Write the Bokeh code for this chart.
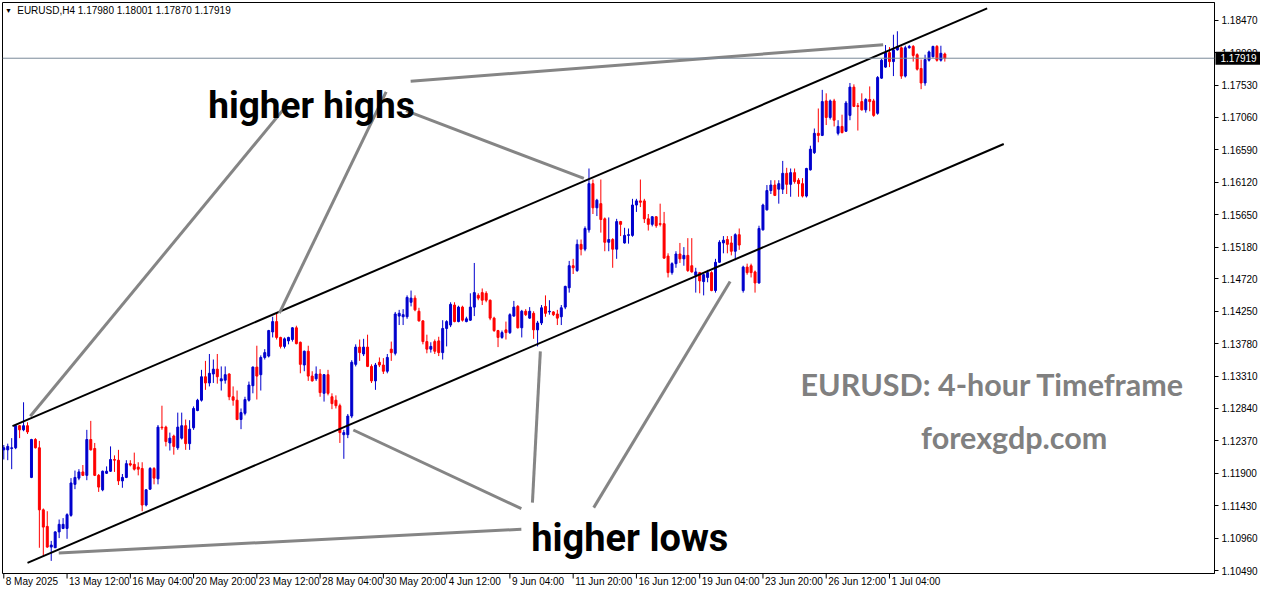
from bokeh.plotting import figure
from bokeh.models import (Range1d, FixedTicker, LinearAxis, Label, Span,
                          PrintfTickFormatter, ColumnDataSource)
from bokeh.core.properties import value
from bokeh.embed import file_html
from bokeh.resources import INLINE

# ---------------- data (EURUSD H4) ----------------
open_ = [1.1224,1.1224,1.1226,1.1227,1.1259,1.1253,1.1259,1.1184,1.1239,1.1227,
 1.1137,1.1113,1.1083,1.1082,1.1105,1.1110,1.1110,1.1129,1.1174,1.1183,
 1.1192,1.1187,1.1239,1.1226,1.1187,1.1166,1.1190,1.1193,1.1210,1.1209,
 1.1179,1.1184,1.1204,1.1203,1.1199,1.1197,1.1144,1.1167,1.1197,1.1182,
 1.1257,1.1257,1.1234,1.1244,1.1227,1.1241,1.1259,1.1233,1.1256,1.1281,
 1.1296,1.1330,1.1321,1.1334,1.1341,1.1324,1.1325,1.1334,1.1301,1.1296,
 1.1268,1.1277,1.1296,1.1317,1.1344,1.1333,1.1358,1.1360,1.1395,1.1410,
 1.1387,1.1374,1.1382,1.1384,1.1401,1.1380,1.1347,1.1367,1.1331,1.1327,
 1.1334,1.1306,1.1333,1.1301,1.1296,1.1288,1.1246,1.1246,1.1273,1.1348,
 1.1373,1.1363,1.1373,1.1345,1.1324,1.1351,1.1347,1.1338,1.1370,1.1364,
 1.1418,1.1417,1.1417,1.1438,1.1444,1.1425,1.1411,1.1381,1.1370,1.1381,
 1.1382,1.1365,1.1400,1.1405,1.1434,1.1410,1.1431,1.1410,1.1412,1.1431,
 1.1448,1.1452,1.1451,1.1441,1.1415,1.1397,1.1387,1.1398,1.1394,1.1418,
 1.1432,1.1401,1.1425,1.1415,1.1422,1.1398,1.1408,1.1432,1.1424,1.1424,
 1.1421,1.1417,1.1431,1.1459,1.1491,1.1484,1.1522,1.1515,1.1543,1.1610,
 1.1575,1.1581,1.1559,1.1525,1.1529,1.1515,1.1555,1.1524,1.1535,1.1535,
 1.1579,1.1585,1.1585,1.1559,1.1551,1.1562,1.1552,1.1552,1.1505,1.1481,
 1.1494,1.1508,1.1501,1.1506,1.1491,1.1477,1.1481,1.1468,1.1474,1.1481,
 1.1455,1.1496,1.1524,1.1529,1.1524,1.1512,1.1536,1.1455,1.1489,1.1491,
 1.1482,1.1466,1.1543,1.1572,1.1600,1.1608,1.1602,1.1602,1.1625,1.1609,
 1.1626,1.1615,1.1610,1.1592,1.1630,1.1655,1.1683,1.1680,1.1730,1.1706,
 1.1730,1.1683,1.1693,1.1686,1.1709,1.1750,1.1723,1.1729,1.1717,1.1732,
 1.1730,1.1712,1.1763,1.1779,1.1800,1.1787,1.1804,1.1807,1.1766,1.1807,
 1.1809,1.1797,1.1777,1.1756,1.1789,1.1794,1.1809,1.1789,1.17980]

high = [1.1231,1.1233,1.1241,1.1260,1.1260,1.1293,1.1264,1.1240,1.1241,1.1237,
 1.1139,1.1135,1.1092,1.1106,1.1123,1.1125,1.1132,1.1183,1.1194,1.1196,
 1.1202,1.1253,1.1266,1.1234,1.1189,1.1194,1.1200,1.1229,1.1216,1.1224,
 1.1189,1.1209,1.1209,1.1220,1.1206,1.1206,1.1167,1.1199,1.1199,1.1260,
 1.1288,1.1259,1.1249,1.1246,1.1278,1.1278,1.1268,1.1267,1.1287,1.1298,
 1.1340,1.1353,1.1363,1.1355,1.1363,1.1345,1.1345,1.1335,1.1316,1.1310,
 1.1284,1.1301,1.1323,1.1345,1.1375,1.1361,1.1370,1.1398,1.1417,1.1422,
 1.1388,1.1387,1.1388,1.1402,1.1404,1.1381,1.1368,1.1375,1.1338,1.1345,
 1.1341,1.1334,1.1340,1.1306,1.1303,1.1291,1.1253,1.1276,1.1354,1.1377,
 1.1384,1.1385,1.1391,1.1348,1.1350,1.1358,1.1357,1.1363,1.1381,1.1424,
 1.1427,1.1428,1.1448,1.1455,1.1448,1.1430,1.1412,1.1391,1.1380,1.1384,
 1.1388,1.1412,1.1412,1.1438,1.1438,1.1433,1.1433,1.1417,1.1451,1.1495,
 1.1451,1.1458,1.1454,1.1442,1.1417,1.1398,1.1397,1.1410,1.1422,1.1440,
 1.1434,1.1427,1.1428,1.1431,1.1425,1.1411,1.1434,1.1448,1.1441,1.1425,
 1.1427,1.1434,1.1462,1.1498,1.1501,1.1529,1.1529,1.1548,1.1632,1.1616,
 1.1588,1.1616,1.1561,1.1561,1.1531,1.1559,1.1556,1.1546,1.1545,1.1588,
 1.1588,1.1616,1.1588,1.1566,1.1563,1.1563,1.1581,1.1569,1.1509,1.1496,
 1.1512,1.1524,1.1518,1.1531,1.1531,1.1488,1.1482,1.1479,1.1485,1.1483,
 1.1501,1.1528,1.1534,1.1534,1.1534,1.1538,1.1545,1.1491,1.1494,1.1494,
 1.1484,1.1549,1.1581,1.1608,1.1615,1.1615,1.1615,1.1643,1.1633,1.1632,
 1.1632,1.1618,1.1618,1.1633,1.1665,1.1690,1.1719,1.1746,1.1741,1.1732,
 1.1733,1.1702,1.1710,1.1730,1.1756,1.1754,1.1727,1.1741,1.1734,1.1751,
 1.1733,1.1766,1.1791,1.1811,1.1808,1.1826,1.1831,1.1809,1.1810,1.1811,
 1.1811,1.1799,1.1790,1.1797,1.1803,1.1810,1.1811,1.1810,1.18001]

low = [1.1210,1.1209,1.1196,1.1225,1.1241,1.1251,1.1247,1.1183,1.1226,1.1082,
 1.1070,1.1082,1.1063,1.1082,1.1096,1.1109,1.1095,1.1127,1.1167,1.1180,
 1.1186,1.1180,1.1223,1.1186,1.1163,1.1164,1.1189,1.1192,1.1192,1.1173,
 1.1169,1.1183,1.1200,1.1194,1.1187,1.1135,1.1142,1.1166,1.1174,1.1174,
 1.1253,1.1229,1.1223,1.1217,1.1224,1.1239,1.1224,1.1224,1.1253,1.1280,
 1.1294,1.1311,1.1316,1.1321,1.1320,1.1310,1.1320,1.1296,1.1288,1.1267,
 1.1254,1.1274,1.1294,1.1306,1.1297,1.1310,1.1355,1.1358,1.1387,1.1384,
 1.1371,1.1371,1.1377,1.1381,1.1377,1.1335,1.1338,1.1324,1.1323,1.1324,
 1.1301,1.1294,1.1303,1.1283,1.1284,1.1234,1.1211,1.1241,1.1270,1.1345,
 1.1353,1.1360,1.1344,1.1321,1.1311,1.1344,1.1334,1.1335,1.1353,1.1361,
 1.1405,1.1405,1.1414,1.1432,1.1425,1.1410,1.1377,1.1364,1.1365,1.1363,
 1.1360,1.1355,1.1374,1.1402,1.1409,1.1409,1.1410,1.1409,1.1411,1.1418,
 1.1441,1.1434,1.1438,1.1412,1.1395,1.1373,1.1385,1.1384,1.1392,1.1417,
 1.1400,1.1387,1.1418,1.1414,1.1385,1.1374,1.1405,1.1417,1.1420,1.1418,
 1.1405,1.1405,1.1428,1.1452,1.1479,1.1482,1.1506,1.1512,1.1539,1.1566,
 1.1563,1.1539,1.1512,1.1512,1.1488,1.1501,1.1534,1.1523,1.1523,1.1533,
 1.1569,1.1576,1.1553,1.1542,1.1548,1.1546,1.1548,1.1501,1.1474,1.1478,
 1.1488,1.1495,1.1491,1.1482,1.1481,1.1452,1.1451,1.1448,1.1467,1.1454,
 1.1452,1.1495,1.1509,1.1509,1.1506,1.1499,1.1514,1.1452,1.1478,1.1474,
 1.1452,1.1465,1.1542,1.1571,1.1595,1.1592,1.1581,1.1595,1.1595,1.1591,
 1.1610,1.1591,1.1590,1.1590,1.1629,1.1653,1.1670,1.1679,1.1695,1.1703,
 1.1693,1.1680,1.1683,1.1685,1.1702,1.1721,1.1687,1.1716,1.1713,1.1715,
 1.1707,1.1710,1.1762,1.1778,1.1779,1.1766,1.1803,1.1762,1.1764,1.1806,
 1.1787,1.1774,1.1747,1.1752,1.1787,1.1793,1.1787,1.1787,1.17870]

close = [1.1227,1.1229,1.1227,1.1259,1.1253,1.1259,1.1250,1.1239,1.1227,1.1137,
 1.1112,1.1083,1.1086,1.1105,1.1116,1.1116,1.1130,1.1176,1.1184,1.1192,
 1.1187,1.1239,1.1224,1.1187,1.1170,1.1193,1.1193,1.1210,1.1209,1.1179,
 1.1184,1.1204,1.1202,1.1196,1.1196,1.1144,1.1166,1.1197,1.1183,1.1257,
 1.1256,1.1236,1.1241,1.1229,1.1257,1.1259,1.1233,1.1254,1.1284,1.1296,
 1.1330,1.1321,1.1335,1.1341,1.1330,1.1327,1.1333,1.1301,1.1296,1.1268,
 1.1278,1.1297,1.1318,1.1344,1.1331,1.1358,1.1365,1.1397,1.1410,1.1387,
 1.1374,1.1385,1.1387,1.1401,1.1378,1.1348,1.1367,1.1331,1.1324,1.1334,
 1.1307,1.1333,1.1306,1.1291,1.1288,1.1249,1.1249,1.1273,1.1351,1.1373,
 1.1365,1.1373,1.1345,1.1324,1.1347,1.1347,1.1338,1.1358,1.1365,1.1421,
 1.1422,1.1420,1.1445,1.1444,1.1427,1.1411,1.1381,1.1370,1.1374,1.1367,
 1.1365,1.1400,1.1410,1.1435,1.1410,1.1431,1.1412,1.1414,1.1431,1.1452,
 1.1444,1.1441,1.1441,1.1415,1.1397,1.1387,1.1394,1.1394,1.1420,1.1431,
 1.1401,1.1425,1.1420,1.1425,1.1398,1.1408,1.1430,1.1422,1.1425,1.1420,
 1.1415,1.1430,1.1461,1.1491,1.1488,1.1522,1.1515,1.1545,1.1610,1.1575,
 1.1586,1.1558,1.1525,1.1529,1.1515,1.1555,1.1551,1.1535,1.1536,1.1579,
 1.1585,1.1583,1.1559,1.1551,1.1562,1.1549,1.1551,1.1502,1.1481,1.1494,
 1.1508,1.1501,1.1506,1.1484,1.1482,1.1482,1.1469,1.1478,1.1481,1.1455,
 1.1496,1.1525,1.1528,1.1522,1.1512,1.1536,1.1521,1.1489,1.1481,1.1481,
 1.1466,1.1545,1.1579,1.1600,1.1608,1.1593,1.1610,1.1625,1.1609,1.1626,
 1.1613,1.1610,1.1592,1.1632,1.1660,1.1683,1.1680,1.1729,1.1706,1.1730,
 1.1702,1.1693,1.1684,1.1727,1.1750,1.1722,1.1722,1.1717,1.1732,1.1729,
 1.1709,1.1764,1.1789,1.1800,1.1787,1.1804,1.1809,1.1766,1.1807,1.1809,
 1.1796,1.1776,1.1756,1.1790,1.1801,1.1809,1.1789,1.1799,1.17919]

date_labels = ["8 May 2025", "13 May 12:00", "16 May 04:00", "20 May 20:00",
               "23 May 12:00", "28 May 04:00", "30 May 20:00", "4 Jun 12:00",
               "9 Jun 04:00", "11 Jun 20:00", "16 Jun 12:00", "19 Jun 04:00",
               "23 Jun 20:00", "26 Jun 12:00", "1 Jul 04:00"]
date_label_bars = [0, 16, 32, 48, 64, 80, 96, 112, 128, 144, 160, 176, 192, 208, 224]

price_ticks = [1.18470, 1.18000, 1.17530, 1.17060, 1.16590, 1.16120, 1.15650,
               1.15180, 1.14720, 1.14250, 1.13780, 1.13310, 1.12840, 1.12370,
               1.11900, 1.11430, 1.10960, 1.10490]

last_price = 1.17919

# channel lines and annotation pointers (bar index, price)
channel_x0 = [2.2, 6.0]
channel_y0 = [1.12585, 1.10600]
channel_x1 = [248.7, 252.9]
channel_y1 = [1.18641, 1.16675]

ptr_x0 = [102.9, 70.9, 96.7, 101.7, 130.9, 133.7, 149.2, 130.9]
ptr_y0 = [1.17586, 1.17188, 1.17430, 1.17159, 1.11388, 1.11474, 1.11402, 1.11089]
ptr_x1 = [222.4, 6.7, 69.7, 146.7, 88.4, 135.7, 183.7, 13.9]
ptr_y1 = [1.18114, 1.12727, 1.14224, 1.16176, 1.12528, 1.13668, 1.14680, 1.10746]

# ---------------- build ----------------
n = len(close)
xs = list(range(n))
BLUE, RED = "#0000CD", "#FF0000"
colors = [BLUE if c >= o else RED for o, c in zip(open_, close)]
src = ColumnDataSource(dict(
    x=xs, open=open_, close=close,
    high=[max(h, o, c) for h, o, c in zip(high, open_, close)],
    low=[min(l, o, c) for l, o, c in zip(low, open_, close)],
    top=[max(o, c) for o, c in zip(open_, close)],
    bottom=[min(o, c) for o, c in zip(open_, close)],
    color=colors))

W, H = 1260, 588
BOTTOM = 15
X0, X1 = -0.325, 306.2
Y0, Y1 = 1.10447, 1.18727
p = figure(width=W, height=H, output_backend="svg", toolbar_location=None,
           x_range=Range1d(X0, X1), y_range=Range1d(Y0, Y1),
           x_axis_location=None, y_axis_location=None,
           min_border_left=2, min_border_top=2, min_border_right=0,
           min_border_bottom=BOTTOM)
p.xgrid.visible = False
p.ygrid.visible = False
p.outline_line_color = "black"
p.outline_line_width = 1
p.background_fill_color = "white"
p.border_fill_color = "white"

p.segment(x0="x", y0="low", x1="x", y1="high", color="color", line_width=1, source=src)
p.vbar(x="x", top="top", bottom="bottom", width=0.5, fill_color="color",
       line_color="color", line_width=1, source=src)

p.add_layout(Span(location=last_price, dimension="width", line_color="#7a8a99", line_width=1))

p.segment(x0=channel_x0, y0=channel_y0, x1=channel_x1, y1=channel_y1,
          line_color="black", line_width=2)
p.segment(x0=ptr_x0, y0=ptr_y0, x1=ptr_x1, y1=ptr_y1,
          line_color="#858585", line_width=3)

AXFONT = "Liberation Sans"
yaxis = LinearAxis(ticker=FixedTicker(ticks=price_ticks),
                   formatter=PrintfTickFormatter(format="%.5f"),
                   major_tick_out=4, major_tick_in=0, minor_tick_line_color=None,
                   major_label_text_font=AXFONT, major_label_text_font_size="10px",
                   major_label_text_color="black", major_label_standoff=3,
                   axis_line_color="black")
p.add_layout(yaxis, "right")

# approximate pixel sizes of one data unit (frame is about 1212 x 571 px)
ppx_x = (X1 - X0) / (W - 2 - 46)
ppx_y = (Y1 - Y0) / (H - 2 - BOTTOM)

# time scale: tick marks + left-aligned date labels below the frame
# (overlay level so they are drawn outside the plot frame)
p.segment(x0=date_label_bars, x1=date_label_bars, y0=[Y0] * len(date_label_bars),
          y1=[Y0 - 5 * ppx_y] * len(date_label_bars), line_color="black",
          line_width=1, level="overlay")
p.text(x=[b + 2 * ppx_x for b in date_label_bars], y=[Y0 - 2 * ppx_y] * len(date_labels),
       text=date_labels, text_font=value(AXFONT), text_font_size="10px",
       text_color="black", text_align="left", text_baseline="top", level="overlay")

# price box on the right axis
p.quad(left=[X1 + 1 * ppx_x], right=[X1 + 46 * ppx_x],
       bottom=[last_price - 6.5 * ppx_y], top=[last_price + 6.5 * ppx_y],
       fill_color="black", line_color=None, level="overlay")
p.text(x=[X1 + 6 * ppx_x], y=[last_price], text=["1.17919"], text_color="white",
       text_font=value(AXFONT), text_font_size="10px", text_baseline="middle",
       level="overlay")

# header
p.add_layout(Label(x=0.3, y=1.18612, text="\u25BC", text_font_size="7px",
                   text_baseline="middle", text_color="black"))
p.add_layout(Label(x=3.4, y=1.18612, text="EURUSD,H4  1.17980 1.18001 1.17870 1.17919",
                   text_font=AXFONT, text_font_size="10px", text_baseline="middle",
                   text_color="black"))

# annotation texts
BIG = "Roboto"
p.add_layout(Label(x=51.7, y=1.17230, text="higher highs", text_font=BIG,
                   text_font_style="bold", text_font_size="37px",
                   text_baseline="alphabetic", text_color="black"))
p.add_layout(Label(x=133.4, y=1.10960, text="higher lows", text_font=BIG,
                   text_font_style="bold", text_font_size="38px",
                   text_baseline="alphabetic", text_color="black"))
p.add_layout(Label(x=201.5, y=1.13198, text="EURUSD: 4-hour Timeframe", text_font="Lato",
                   text_font_style="bold", text_font_size="30.5px",
                   text_baseline="alphabetic", text_color="#808080"))
p.add_layout(Label(x=232.0, y=1.12428, text="forexgdp.com", text_font="Lato",
                   text_font_style="bold", text_font_size="30.5px",
                   text_baseline="alphabetic", text_color="#808080"))

open("out.html", "w").write(file_html(p, INLINE))
